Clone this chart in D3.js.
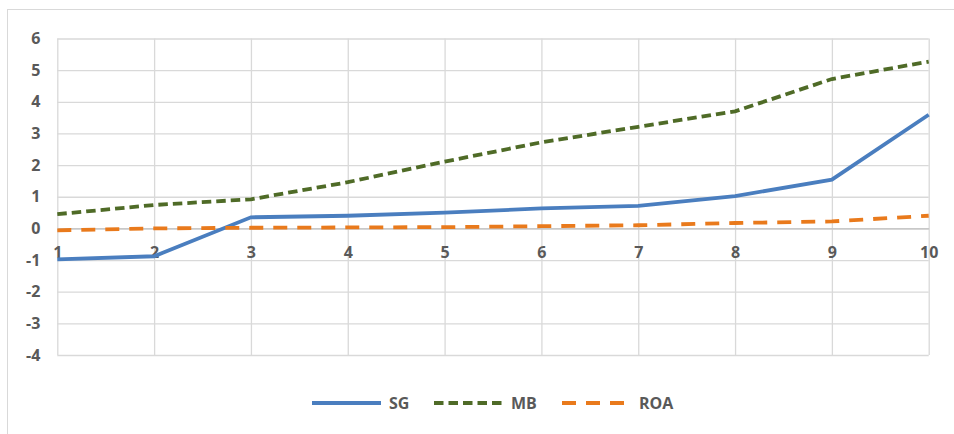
<!doctype html>
<html>
<head>
  <meta charset="utf-8">
  <title>SG MB ROA</title>
  <script src="https://d3js.org/d3.v7.min.js"></script>
  <style>
    body { margin: 0; background: #fff; }
    text { font-family: "Open Sans", "Liberation Sans", sans-serif; font-weight: bold; fill: #595959; }
  </style>
</head>
<body>
  <div id="chart"></div>
  <script>
    // data
    var categories = [1, 2, 3, 4, 5, 6, 7, 8, 9, 10];
    var sg  = [-0.98, -0.88, 0.35, 0.40, 0.50, 0.63, 0.71, 1.02, 1.54, 3.59];
    var mb  = [0.45, 0.74, 0.92, 1.46, 2.11, 2.72, 3.21, 3.70, 4.72, 5.27];
    var roa = [-0.06, 0.0, 0.02, 0.03, 0.04, 0.07, 0.10, 0.17, 0.22, 0.40];
    var yTicks = [-4, -3, -2, -1, 0, 1, 2, 3, 4, 5, 6];
    var seriesNames = ["SG", "MB", "ROA"];

    var W = 954, H = 434;
    var margin = { top: 38.5, left: 57.3, right: 25.3, bottom: 79 };
    var width = W - margin.left - margin.right,
      height = H - margin.top - margin.bottom;

    var svg = d3.select("#chart")
      .append("svg")
      .attr("width", W)
      .attr("height", H);

    // chart border
    svg.append("rect")
      .attr("x", 7.5).attr("y", 9.5)
      .attr("width", W + 10).attr("height", H + 10)
      .attr("fill", "none")
      .attr("stroke", "#d9d9d9")
      .attr("stroke-width", 1);

    var g = svg.append("g")
      .attr("transform", "translate(" + margin.left + "," + margin.top + ")");

    var x = d3.scaleLinear().domain([1, 10]).range([0, width]);
    var y = d3.scaleLinear().domain([-4, 6]).range([height, 0]);

    // plain hyphen minus, like the original
    var fmt = function (d) { return String(d); };

    // horizontal gridlines + y labels
    var yAxis = g.append("g")
      .call(d3.axisLeft(y).tickValues(yTicks).tickSize(-width).tickPadding(17).tickFormat(fmt));
    yAxis.select(".domain").remove();
    yAxis.selectAll("line").attr("stroke", "#d9d9d9").attr("stroke-width", 1.3);
    yAxis.selectAll("text").style("font-size", "16px").attr("fill", "#595959");

    // vertical gridlines
    var xGrid = g.append("g")
      .call(d3.axisBottom(x).tickValues(categories).tickSize(height).tickFormat(""));
    xGrid.select(".domain").remove();
    xGrid.selectAll("line").attr("stroke", "#d9d9d9").attr("stroke-width", 1.3);

    // zero axis line and category labels
    var xAxis = g.append("g")
      .attr("transform", "translate(0," + y(0) + ")")
      .call(d3.axisBottom(x).tickValues(categories).tickSize(0).tickPadding(18).tickFormat(fmt));
    xAxis.select(".domain").attr("stroke", "#bfbfbf").attr("stroke-width", 1.3);
    xAxis.selectAll("text").style("font-size", "16px").attr("fill", "#595959");

    var styles = {
      SG:  { values: sg,  color: "#4a7ebf", dash: null },
      MB:  { values: mb,  color: "#4f6b27", dash: "9.5,5" },
      ROA: { values: roa, color: "#e97a1c", dash: "14,10" }
    };

    var line = d3.line()
      .x(function (d, i) { return x(categories[i]); })
      .y(function (d) { return y(d); });

    seriesNames.forEach(function (name) {
      var s = styles[name];
      g.append("path")
        .datum(s.values)
        .attr("fill", "none")
        .attr("stroke", s.color)
        .attr("stroke-width", 3.8)
        .attr("stroke-dasharray", s.dash)
        .attr("d", line);
    });

    // legend
    var legendX = [312, 434, 562];
    var legend = svg.append("g").attr("transform", "translate(0,403)");
    seriesNames.forEach(function (name, i) {
      var s = styles[name];
      legend.append("line")
        .attr("x1", legendX[i]).attr("x2", legendX[i] + 69)
        .attr("y1", 0).attr("y2", 0)
        .attr("stroke", s.color)
        .attr("stroke-width", 3.8)
        .attr("stroke-dasharray", s.dash);
      legend.append("text")
        .attr("x", legendX[i] + 77)
        .attr("y", 0)
        .attr("dy", "0.36em")
        .style("font-size", "16px")
        .text(name);
    });
  </script>
</body>
</html>
